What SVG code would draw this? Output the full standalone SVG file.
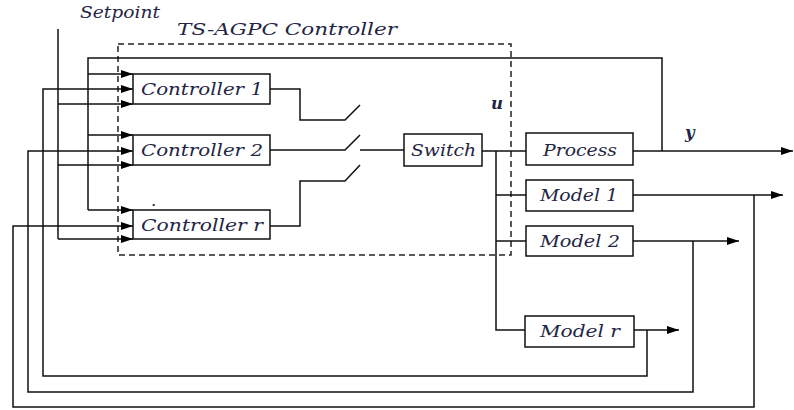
<svg xmlns="http://www.w3.org/2000/svg" width="794" height="410" viewBox="0 0 794 410">
<defs>
<marker id="ah" viewBox="0 0 12 8" refX="12" refY="4" markerWidth="12" markerHeight="8" markerUnits="userSpaceOnUse" orient="auto">
<path d="M0,0 L12,4 L0,8 Z" fill="#000"/>
</marker>
</defs>
<style>
.ln{fill:none;stroke:#111;stroke-width:1.5}
.ar{fill:none;stroke:#111;stroke-width:1.5;marker-end:url(#ah)}
.bx{fill:#fff;stroke:#111;stroke-width:1.5}
.dash{fill:none;stroke:#222;stroke-width:1.5;stroke-dasharray:6,4}
.t{font-family:"DejaVu Serif","Liberation Serif",serif;font-style:italic;font-size:16.5px;fill:#1f2645}
</style>
<rect width="794" height="410" fill="#fff"/>
<text class="t" x="80" y="18" textLength="80" lengthAdjust="spacingAndGlyphs">Setpoint</text>
<text class="t" x="177" y="35" textLength="220" lengthAdjust="spacingAndGlyphs">TS-AGPC Controller</text>
<text class="t" x="491" y="109" font-size="21" font-weight="bold">u</text>
<text class="t" x="685" y="138" font-size="21" font-weight="bold">y</text>
<text class="t" x="151" y="206" font-size="10">.</text>
<rect class="dash" x="118" y="44" width="393" height="211"/>
<g id="connectors">
<path class="ln" d="M58,29 V239"/>
<path class="ar" d="M58,104 H133"/>
<path class="ar" d="M58,165 H133"/>
<path class="ar" d="M58,239 H133"/>
<path class="ln" d="M662,151 V58 H88 V210"/>
<path class="ar" d="M88,74 H133"/>
<path class="ar" d="M88,135 H133"/>
<path class="ar" d="M88,210 H133"/>
<path class="ar" d="M647,330 V376 H43 V89 H133"/>
<path class="ar" d="M693,241 V392 H28 V151 H133"/>
<path class="ar" d="M754,195 V407 H13 V226 H133"/>
<path class="ln" d="M270,89 H300 V120 H345 L360,105"/>
<path class="ln" d="M270,150 H345 L360,135"/>
<path class="ln" d="M360,150 H404"/>
<path class="ln" d="M270,226 H300 V181 H345 L360,165"/>
<path class="ln" d="M482,151 H526"/>
<path class="ln" d="M496,151 V330 H525"/>
<path class="ln" d="M496,195 H526"/>
<path class="ln" d="M496,241 H526"/>
<path class="ar" d="M633,151 H793"/>
<path class="ar" d="M633,195 H783"/>
<path class="ar" d="M633,241 H739"/>
<path class="ar" d="M634,330 H679"/>
</g>
<g id="controller1"><rect class="bx" x="133" y="74" width="137" height="30"/><text class="t" x="141" y="95" textLength="122" lengthAdjust="spacingAndGlyphs">Controller 1</text></g>
<g id="controller2"><rect class="bx" x="133" y="135" width="137" height="30"/><text class="t" x="141" y="156" textLength="122" lengthAdjust="spacingAndGlyphs">Controller 2</text></g>
<g id="controllerr"><rect class="bx" x="133" y="210" width="137" height="29"/><text class="t" x="141" y="231" textLength="122" lengthAdjust="spacingAndGlyphs">Controller r</text></g>
<g id="switch"><rect class="bx" x="404" y="134" width="78" height="32"/><text class="t" x="411" y="156" textLength="65" lengthAdjust="spacingAndGlyphs">Switch</text></g>
<g id="process"><rect class="bx" x="526" y="133" width="107" height="32"/><text class="t" x="543" y="156" textLength="74" lengthAdjust="spacingAndGlyphs">Process</text></g>
<g id="model1"><rect class="bx" x="526" y="180" width="107" height="31"/><text class="t" x="540" y="201" textLength="78" lengthAdjust="spacingAndGlyphs">Model 1</text></g>
<g id="model2"><rect class="bx" x="526" y="226" width="107" height="30"/><text class="t" x="540" y="247" textLength="80" lengthAdjust="spacingAndGlyphs">Model 2</text></g>
<g id="modelr"><rect class="bx" x="525" y="316" width="109" height="31"/><text class="t" x="540" y="337" textLength="80" lengthAdjust="spacingAndGlyphs">Model r</text></g>
</svg>
